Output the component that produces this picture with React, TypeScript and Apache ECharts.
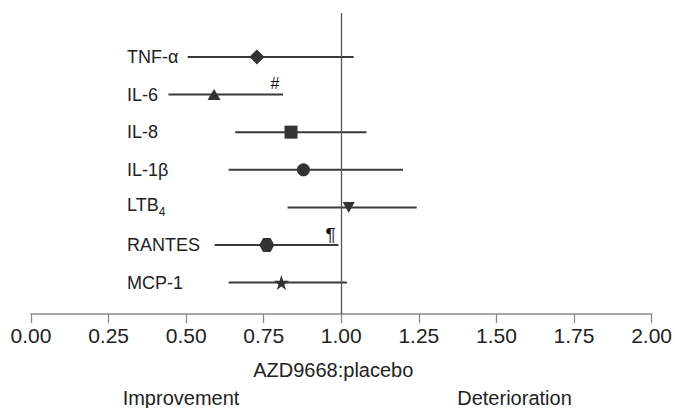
import React, { useEffect, useRef } from "react";
import * as echarts from "echarts";

// ---- data ----
const categories = ["TNF-α", "IL-6", "IL-8", "IL-1β", "LTB4", "RANTES", "MCP-1"];
const pointEst = [0.728, 0.59, 0.838, 0.878, 1.024, 0.76, 0.807];
const ciLow = [0.505, 0.443, 0.658, 0.637, 0.827, 0.592, 0.637];
const ciHigh = [1.04, 0.812, 1.081, 1.199, 1.243, 0.991, 1.018];
const annotations = ["", "#", "", "", "", "¶", ""];
const xTickValues = [0, 0.25, 0.5, 0.75, 1, 1.25, 1.5, 1.75, 2];
const xAxisTitle = "AZD9668:placebo";
const leftNote = "Improvement";
const rightNote = "Deterioration";

// ---- styles ----
const STAR =
  "path://M50,0 L61.8,35.4 L99,35.4 L69,57.3 L80.3,92.7 L50,70.8 L19.7,92.7 L31,57.3 L1,35.4 L38.2,35.4 Z";
const HEX = "path://M0,6.5 L3.75,0 L11.25,0 L15,6.5 L11.25,13 L3.75,13 Z";
const TRI_DOWN = "path://M0,0 L10,0 L5,9 Z";
const markerSymbols: [string, number | number[]][] = [
  ["diamond", [15, 15]],
  ["triangle", [13, 11]],
  ["rect", [13, 13]],
  ["circle", 13],
  [TRI_DOWN, [12, 11]],
  [HEX, [15, 14]],
  [STAR, [15, 15]],
];
const FONT = "'Liberation Sans', Arial, Helvetica, sans-serif";
const INK = "#333333";
const TEXT = "#222222";

export default function App() {
  const ref = useRef<HTMLDivElement>(null);

  useEffect(() => {
    if (!ref.current) return;
    const chart = echarts.init(ref.current, undefined, { renderer: "svg" });

    const rowIdx = categories.map((_, i) => i);
    const noteRows = rowIdx.filter((i) => annotations[i] !== "");

    const option: any = {
      animation: false,
      backgroundColor: "#ffffff",
      grid: { left: 31, right: 17, top: 13, bottom: 94, containLabel: false },
      xAxis: {
        type: "value",
        min: 0,
        max: 2,
        interval: 0.25,
        name: xAxisTitle,
        nameLocation: "middle",
        nameGap: 46,
        nameTextStyle: {
          fontFamily: FONT,
          fontSize: 20,
          color: TEXT,
          padding: [0, 16, 0, 0],
        },
        axisLine: { onZero: false, lineStyle: { color: "#8a8a8a", width: 1.5 } },
        axisTick: { show: true, inside: false, length: 9, lineStyle: { color: "#8a8a8a", width: 1.3 } },
        splitLine: { show: false },
        axisLabel: {
          margin: 11,
          fontFamily: FONT,
          fontSize: 21,
          color: TEXT,
          formatter: (v: number) => v.toFixed(2),
          customValues: xTickValues,
        },
      },
      yAxis: {
        type: "value",
        inverse: true,
        min: -1.167,
        max: 6.834,
        axisLine: { show: false },
        axisTick: { show: false },
        splitLine: { show: false },
        axisLabel: {
          customValues: rowIdx,
          align: "left",
          margin: -96,
          fontFamily: FONT,
          fontSize: 18,
          color: TEXT,
          formatter: (v: number) => {
            const name = categories[Math.round(v)] ?? "";
            if (name === "LTB4") return "{m|LTB}{s|4}";
            return "{n|" + name + "}";
          },
          rich: {
            n: { fontFamily: FONT, fontSize: 18, color: TEXT, verticalAlign: "bottom" },
            m: { fontFamily: FONT, fontSize: 18, color: TEXT, verticalAlign: "bottom", padding: [0, 0, 4, 0] },
            s: { fontFamily: FONT, fontSize: 12, color: TEXT, verticalAlign: "bottom" },
          },
        },
      },
      series: [
        {
          type: "custom",
          name: "ci",
          data: categories.map((_, i) => [ciLow[i], ciHigh[i], i]),
          encode: { x: [0, 1], y: 2 },
          renderItem: (params: any, api: any) => {
            const a = api.coord([api.value(0), api.value(2)]);
            const b = api.coord([api.value(1), api.value(2)]);
            return {
              type: "line",
              shape: { x1: a[0], y1: a[1], x2: b[0], y2: b[1] },
              style: { stroke: "#3a3a3a", lineWidth: 2 },
            };
          },
          markLine: {
            silent: true,
            symbol: "none",
            label: { show: false },
            lineStyle: { color: "#555555", width: 1.3, type: "solid" },
            data: [{ xAxis: 1 }],
          },
          z: 2,
        },
        {
          type: "scatter",
          name: "estimate",
          data: categories.map((_, i) => ({
            value: [pointEst[i], i],
            symbol: markerSymbols[i][0],
            symbolSize: markerSymbols[i][1],
          })),
          itemStyle: { color: INK, opacity: 1 },
          z: 3,
        },
        {
          type: "custom",
          name: "notes",
          data: noteRows.map((i) => [ciHigh[i], i]),
          encode: { x: 0, y: 1 },
          renderItem: (params: any, api: any) => {
            const p = api.coord([api.value(0), api.value(1)]);
            const note = annotations[noteRows[params.dataIndex]];
            return {
              type: "text",
              x: p[0] - 8,
              y: p[1] - 11,
              style: {
                text: note,
                fontFamily: FONT,
                fontSize: note === "#" ? 16 : 19,
                fill: "#111111",
                align: "center",
                verticalAlign: "middle",
              },
            };
          },
          z: 4,
        },
      ],
      graphic: [
        {
          type: "text",
          x: 181,
          y: 398,
          style: {
            text: leftNote,
            fontFamily: FONT,
            fontSize: 20,
            fill: TEXT,
            align: "center",
            verticalAlign: "middle",
          },
        },
        {
          type: "text",
          x: 514.5,
          y: 398,
          style: {
            text: rightNote,
            fontFamily: FONT,
            fontSize: 20,
            fill: TEXT,
            align: "center",
            verticalAlign: "middle",
          },
        },
      ],
    };

    chart.setOption(option);
    return () => chart.dispose();
  }, []);

  return (
    <div
      ref={ref}
      style={{ position: "absolute", left: 0, top: 0, width: 675, height: 408 }}
    />
  );
}
